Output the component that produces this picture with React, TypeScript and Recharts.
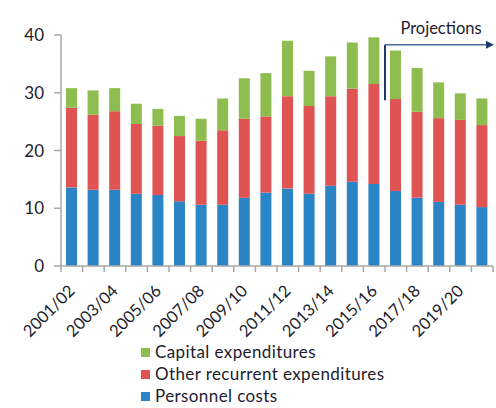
import React from 'react';
import { BarChart, Bar, XAxis, YAxis, ReferenceLine, Legend } from 'recharts';

const years = ['2001/02','2002/03','2003/04','2004/05','2005/06','2006/07','2007/08','2008/09','2009/10','2010/11','2011/12','2012/13','2013/14','2014/15','2015/16','2016/17','2017/18','2018/19','2019/20','2020/21'];
const personnel = [13.6,13.2,13.2,12.5,12.3,11.2,10.6,10.6,11.8,12.7,13.4,12.5,13.9,14.6,14.2,13.0,11.8,11.1,10.6,10.2];
const otherRecurrent = [13.8,13.0,13.6,12.1,12.0,11.3,11.1,12.9,13.7,13.2,16.0,15.2,15.5,16.1,17.3,15.9,14.9,14.5,14.7,14.2];
const capital = [3.4,4.2,4.0,3.5,2.9,3.5,3.8,5.5,7.0,7.5,9.6,6.1,6.9,8.0,8.1,8.4,7.6,6.2,4.6,4.6];
const yTicks = [0,10,20,30,40];
const lastActual = '2015/16';
const firstProjection = '2016/17';
const lastProjection = '2020/21';
const projectionLow = 28.7;
const projectionHigh = 38.3;
const projectionLabel = 'Projections';

const data = years.map((y, i) => ({
  year: y,
  personnel: personnel[i],
  other: otherRecurrent[i],
  capital: capital[i],
}));

const BLUE = '#2a84c6';
const RED = '#e05353';
const GREEN = '#8dbc4f';
const NAVY = '#1f3a6e';
const TEXT = '#1c1c2c';
const AXIS = '#a8a8a8';
const FONT = "Lato, 'Open Sans', 'Liberation Sans', Arial, sans-serif";

const XTick = (props: any) => {
  const { x, y, payload, index } = props;
  const half = payload && typeof payload.offset === 'number' && payload.offset > 0 ? payload.offset : 10.8;
  const isLast = index === years.length - 1;
  return (
    <g>
      <line x1={x - half} y1={y} x2={x - half} y2={y + 6} stroke={AXIS} strokeWidth={1.5} />
      {isLast && <line x1={x + half} y1={y} x2={x + half} y2={y + 6} stroke={AXIS} strokeWidth={1.5} />}
      {index % 2 === 0 && (
        <text x={x + 4} y={y + 26} transform={`rotate(-45, ${x + 4}, ${y + 26})`} textAnchor="end" fontSize={16.5} fill={TEXT} fontFamily={FONT}>
          {payload.value}
        </text>
      )}
    </g>
  );
};

const VerticalMarker = (props: any) => {
  const { x1, y1, x2, y2 } = props;
  const xm = (x1 + x2) / 2;
  return <line x1={xm} y1={y1} x2={xm} y2={y2} stroke={NAVY} strokeWidth={2} />;
};

const ArrowLine = (props: any) => {
  const { x1, y1, x2, y2 } = props;
  const steps = years.indexOf(lastProjection) - years.indexOf(lastActual);
  const half = (x2 - x1) / steps / 2;
  const sx = x1 + half;
  const ex = x2 + half;
  return (
    <g>
      <line x1={sx} y1={y1} x2={ex - 5} y2={y2} stroke="#4a6a9c" strokeWidth={1.5} />
      <polygon points={`${ex + 1},${y2} ${ex - 7},${y2 - 4} ${ex - 7},${y2 + 4}`} fill={NAVY} />
      <text x={(sx + ex) / 2 + 2} y={y1 - 11} textAnchor="middle" fontSize={16.5} fill={TEXT} fontFamily={FONT}>{projectionLabel}</text>
    </g>
  );
};

const legendItems = [
  { name: 'Capital expenditures', color: GREEN },
  { name: 'Other recurrent expenditures', color: RED },
  { name: 'Personnel costs', color: BLUE },
];

const LegendContent = () => (
  <div style={{ fontFamily: FONT, fontSize: 17, letterSpacing: 0.4, color: TEXT, lineHeight: '20px' }}>
    {legendItems.map((it) => (
      <div key={it.name} style={{ display: 'flex', alignItems: 'center', height: 22, whiteSpace: 'nowrap' }}>
        <span style={{ display: 'inline-block', width: 9, height: 9, background: it.color, marginRight: 5 }} />
        <span>{it.name}</span>
      </div>
    ))}
  </div>
);

export default function App() {
  return (
    <div style={{ position: 'absolute', left: 0, top: 0, width: 496, height: 408, background: '#fff' }}>
      <BarChart width={496} height={408} data={data} margin={{ top: 35, right: 3, left: 0, bottom: 0 }} barSize={11}>
        <XAxis dataKey="year" interval={0} axisLine={{ stroke: AXIS, strokeWidth: 1.5 }} tickLine={false} tickSize={0} tickMargin={0} height={76} tick={<XTick />} />
        <YAxis domain={[0, 40]} ticks={yTicks} width={61} tick={{ fontSize: 17, fill: TEXT, fontFamily: FONT }} tickSize={7} tickMargin={10} axisLine={{ stroke: AXIS, strokeWidth: 1.5 }} tickLine={{ stroke: AXIS, strokeWidth: 1.5 }} />
        <Bar dataKey="personnel" name="Personnel costs" stackId="a" fill={BLUE} isAnimationActive={false} />
        <Bar dataKey="other" name="Other recurrent expenditures" stackId="a" fill={RED} isAnimationActive={false} />
        <Bar dataKey="capital" name="Capital expenditures" stackId="a" fill={GREEN} isAnimationActive={false} />
        <ReferenceLine segment={[{ x: lastActual, y: projectionLow }, { x: firstProjection, y: projectionHigh }]} shape={<VerticalMarker />} ifOverflow="visible" />
        <ReferenceLine segment={[{ x: lastActual, y: projectionHigh }, { x: lastProjection, y: projectionHigh }]} shape={<ArrowLine />} ifOverflow="visible" />
        <Legend content={<LegendContent />} layout="vertical" verticalAlign="bottom" wrapperStyle={{ left: 141, top: 341, width: 340 }} />
      </BarChart>
    </div>
  );
}
